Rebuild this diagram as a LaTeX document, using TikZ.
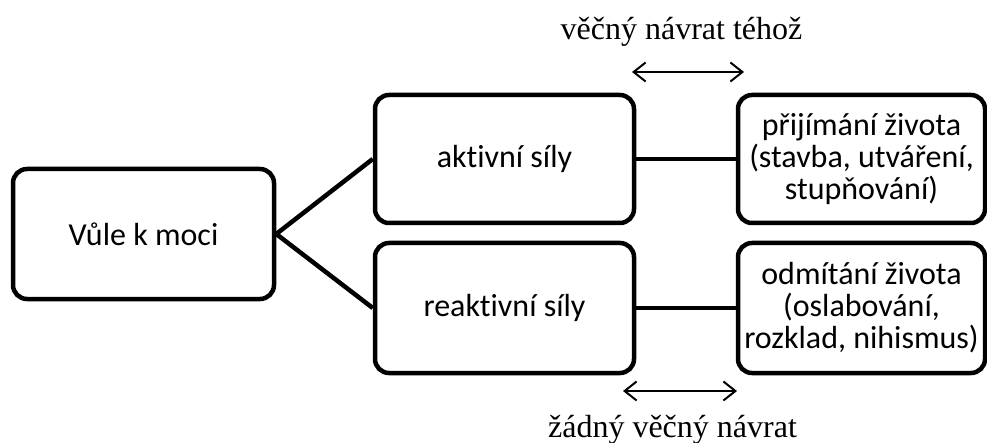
\documentclass[tikz,border=0pt]{standalone}
\usepackage{fontspec}
\setmainfont{Liberation Serif}
\newfontfamily\boxfont[Ligatures=NoCommon]{Carlito}
\usetikzlibrary{arrows.meta}

\begin{document}
\begin{tikzpicture}[x=1pt, y=1pt,
    box/.style={draw=black, line width=4.5pt, rounded corners=14pt, align=center,
        inner sep=0pt, font=\boxfont\fontsize{32}{32}\selectfont},
    link/.style={black, line width=4.5pt},
    cycle/.style={black, line width=2pt,
        {Straight Barb[length=12pt,width=19pt]}-{Straight Barb[length=12pt,width=19pt]}},
    caption/.style={inner sep=0pt, anchor=base, font=\fontsize{32}{32}\selectfont}]
            \useasboundingbox (0,0) rectangle (987,442);

            \node[box, minimum width=261pt, minimum height=130pt] (will) at (143.5,208) {Vůle k moci};
            \node[box, minimum width=259pt, minimum height=128pt] (active) at (504.5,283) {aktivní síly};
            \node[box, minimum width=259pt, minimum height=130pt] (reactive) at (504.5,134) {reaktivní síly};
            \node[box, minimum width=247pt, minimum height=128pt] (accept) at (861.5,283)
                {přijímání života\\(stavba, utváření,\\stupňování)};
            \node[box, minimum width=247pt, minimum height=130pt] (reject) at (861.5,134)
                {odmítání života\\(oslabování,\\rozklad, nihismus)};

            \draw[link] (will.east) -- (active.west);
            \draw[link] (will.east) -- (reactive.west);
            \draw[link] (active.east) -- (accept.west);
            \draw[link] (reactive.east) -- (reject.west);

            \coordinate (topL) at (632,370);
            \coordinate (topR) at (744,370);
            \coordinate (botL) at (623,51);
            \coordinate (botR) at (737,51);
            \draw[cycle] (topL) -- (topR);
            \draw[cycle] (botL) -- (botR);

            \node[caption] (same) at (681.5,402) {věčný návrat téhož};
            \node[caption] (none) at (672.5,5) {žádný věčný návrat};
        \end{tikzpicture}
\end{document}
